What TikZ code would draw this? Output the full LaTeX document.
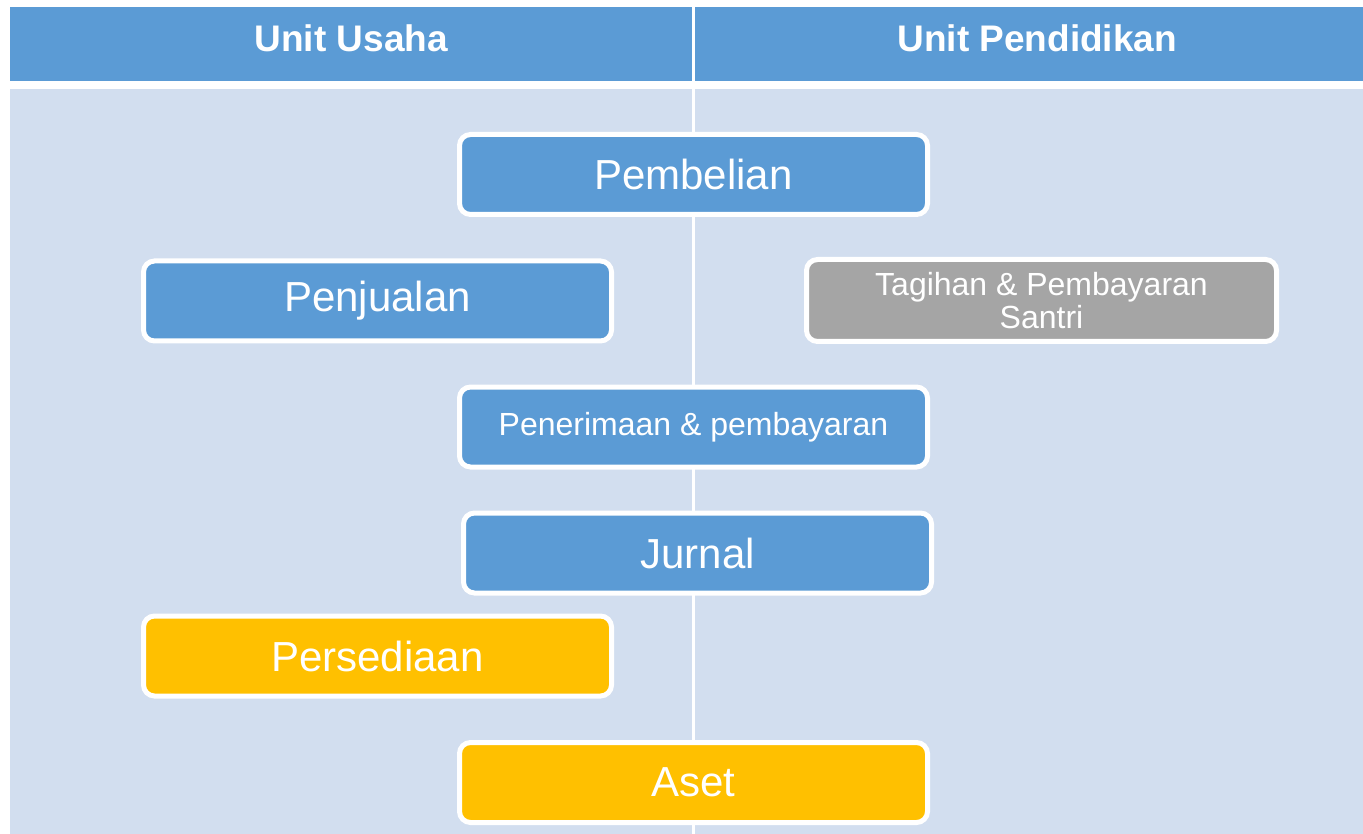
\documentclass[tikz,border=0pt]{standalone}
\usepackage{fontspec}
\setmainfont{Liberation Sans}
\definecolor{hdrblue}{HTML}{5B9BD5}
\definecolor{bodybg}{HTML}{D2DEEF}
\definecolor{boxblue}{HTML}{5B9BD5}
\definecolor{boxgray}{HTML}{A5A5A5}
\definecolor{boxgold}{HTML}{FFC000}
\begin{document}
\begin{tikzpicture}[x=1pt,y=-1pt,
  cell/.style={draw=none,inner sep=0pt,anchor=north west},
  hdrcell/.style={cell,fill=hdrblue},
  hdrtext/.style={text=white,inner sep=0pt,font=\fontsize{37}{44}\selectfont\bfseries},
  bodycell/.style={cell,fill=bodybg},
  procbox/.style={draw=white,line width=5pt,rounded corners=11pt,inner sep=0pt,
    minimum width=468pt,minimum height=80pt,text=white,align=center,
    font=\fontsize{42}{48}\selectfont},
  smalltext/.style={font=\fontsize{32}{33}\selectfont}
]
\useasboundingbox (0,0) rectangle (1363,834);
\fill[white] (0,0) rectangle (1363,834);
% table cells
\node[hdrcell,minimum width=682pt,minimum height=74pt] (hL) at (10,7) {};
\node[hdrcell,minimum width=684pt,minimum height=74pt] (hR) at (695,7) {};
\node[bodycell,minimum width=682pt,minimum height=745pt] (bL) at (10,89) {};
\node[bodycell,minimum width=684pt,minimum height=745pt] (bR) at (695,89) {};
\node[hdrtext] (tL) at ([yshift=5.5pt]hL.center) {Unit Usaha};
\node[hdrtext] (tR) at ([yshift=5.5pt]hR.center) {Unit Pendidikan};
% process boxes
\node[procbox,fill=boxblue] (pembelian) at (693.5,174.5) {Pembelian};
\node[procbox,fill=boxblue] (penjualan) at (377.5,301) {Penjualan};
\node[procbox,fill=boxgray,smalltext,minimum width=470pt,minimum height=82pt] (tagihan) at (1041.5,300.5) {Tagihan \& Pembayaran\\Santri};
\node[procbox,fill=boxblue,smalltext] (penerimaan) at (693.5,427) {Penerimaan \& pembayaran};
\node[procbox,fill=boxblue] (jurnal) at (697.5,553) {Jurnal};
\node[procbox,fill=boxgold] (persediaan) at (377.5,656) {Persediaan};
\node[procbox,fill=boxgold] (aset) at (693.5,782.5) {Aset};
\end{tikzpicture}
\end{document}
